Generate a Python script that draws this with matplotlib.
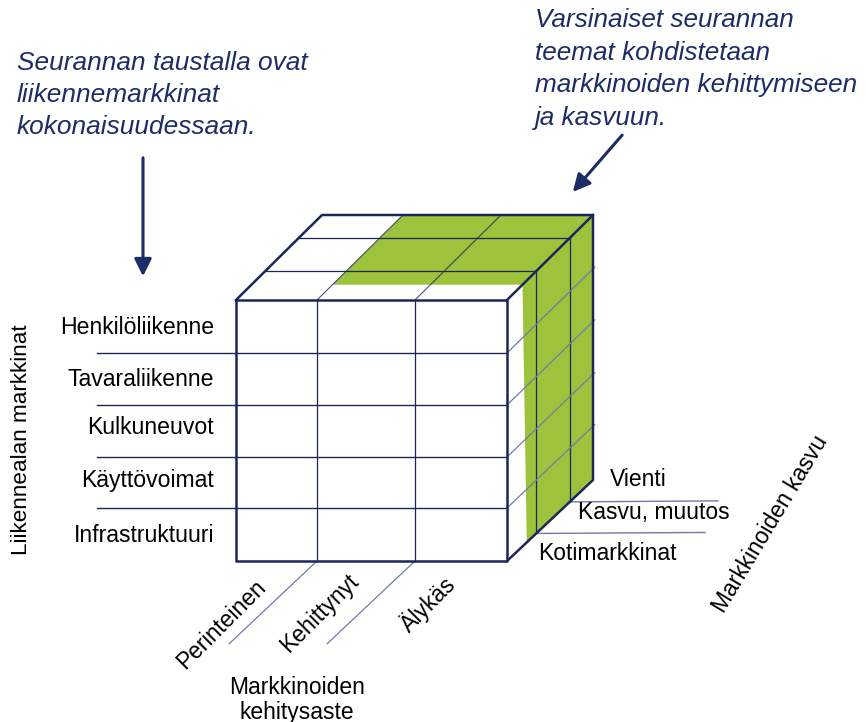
import matplotlib.pyplot as plt
from matplotlib.patches import Polygon

# Labels of the cube
row_labels = ["Henkilöliikenne", "Tavaraliikenne", "Kulkuneuvot", "Käyttövoimat", "Infrastruktuuri"]
col_labels = ["Perinteinen", "Kehittynyt", "Älykäs"]
depth_labels = ["Kotimarkkinat", "Kasvu, muutos", "Vienti"]
left_note = ["Seurannan taustalla ovat", "liikennemarkkinat", "kokonaisuudessaan."]
right_note = ["Varsinaiset seurannan", "teemat kohdistetaan", "markkinoiden kehittymiseen", "ja kasvuun."]

# Layout of the drawing (pixels, y down)
row_edges = [300, 353, 405, 457, 508, 561]
col_edges = [236, 317, 415, 507]
depth_frac = [0.0, 0.34, 0.73, 1.0]
back_dx = 86
row_label_y = [328, 380, 427, 481, 535]

navy = "#1b2659"
light = "#6d7ca8"
green = "#9cc33b"
text_navy = "#1c2c66"
font = "Liberation Sans"


def back(x, y, d):
    # shift a front point d of the way to the back face
    dy = -85 + 4 * (y - 300) / 261
    return x + back_dx * d, y + dy * d


fig = plt.figure(figsize=(8.66, 7.22), dpi=100)
ax = fig.add_axes([0, 0, 1, 1])
ax.set_xlim(0, 866)
ax.set_ylim(722, 0)
ax.axis("off")

x0, x1 = col_edges[0], col_edges[-1]
y0, y1 = row_edges[0], row_edges[-1]

# green area on top and side
g1 = back(col_edges[1], y0, 0.18)
g2 = back(col_edges[1], y0, 1)
g3 = back(x1, y0, 1)
g4 = back(x1, y1, 1)
g5 = back(x1, y1, 0.23)
g6 = back(x1, y0, 0.18)
ax.add_patch(Polygon([g1, g2, g3, g4, g5, g6], closed=True,
                     facecolor=green, edgecolor="none", zorder=1))

# front face grid
for y in row_edges[1:-1]:
    ax.plot([97, x1], [y, y], color=navy, lw=1.0, zorder=3)
for x in col_edges[1:-1]:
    ax.plot([x, x], [y0, y1], color=navy, lw=0.9, zorder=3)
ax.plot([x0, x1, x1, x0, x0], [y0, y0, y1, y1, y0], color=navy, lw=1.8, zorder=4)

# top face grid
for d in depth_frac[1:-1]:
    a, b = back(x0, y0, d), back(x1, y0, d)
    ax.plot([a[0], b[0]], [a[1], b[1]], color=navy, lw=0.9, zorder=3)
for x in col_edges[1:-1]:
    b = back(x, y0, 1)
    ax.plot([x, b[0]], [y0, b[1]], color=navy, lw=0.8, alpha=0.8, zorder=3)
tl, tr = back(x0, y0, 1), back(x1, y0, 1)
ax.plot([x0, tl[0], tr[0], x1], [y0, tl[1], tr[1], y0], color=navy, lw=1.8, zorder=4)

# side face grid
for d in depth_frac[1:-1]:
    a, b = back(x1, y0, d), back(x1, y1, d)
    ax.plot([a[0], b[0]], [a[1], b[1]], color=navy, lw=0.9, zorder=3)
for y in row_edges[1:-1]:
    b = back(x1, y, 1.02)
    ax.plot([x1, b[0]], [y, b[1]], color=light, lw=0.9, zorder=3)
br = back(x1, y1, 1)
ax.plot([tr[0], br[0], x1], [tr[1], br[1], y1], color=navy, lw=1.8, zorder=4)

# extension lines towards the labels
for d, xe in zip(depth_frac[1:-1], [705, 718]):
    a = back(x1, y1, d)
    ax.plot([a[0], xe], [a[1], a[1] - 1], color=light, lw=1.0, zorder=3)
for x in col_edges[1:-1]:
    b = back(x, y1, -1.02)
    ax.plot([x, b[0]], [y1, b[1]], color=light, lw=0.9, zorder=3)

# labels
for ym, lab in zip(row_label_y, row_labels):
    ax.text(214, ym, lab, ha="right", va="center", fontsize=16.6, family=font, color="black")

col_pos = [(221, 624), (320, 613), (428, 604)]
for (cx, cy), lab in zip(col_pos, col_labels):
    ax.text(cx, cy, lab, ha="center", va="center", rotation=45, rotation_mode="anchor",
            fontsize=16.5, family=font, color="black")

depth_pos = [(538, 553), (578, 513), (610, 480)]
for (dx, dy), lab in zip(depth_pos, depth_labels):
    ax.text(dx, dy, lab, ha="left", va="center", fontsize=16.5, family=font, color="black")

ax.text(22, 440, "Liikennealan markkinat", ha="center", va="center", rotation=90,
        fontsize=16.2, family=font, color="black")
ax.text(770, 524, "Markkinoiden kasvu", ha="center", va="center", rotation=59,
        rotation_mode="anchor", fontsize=16.5, family=font, color="black")
ax.text(297, 687, "Markkinoiden", ha="center", va="center", fontsize=16.5, family=font, color="black")
ax.text(297, 712, "kehitysaste", ha="center", va="center", fontsize=16.5, family=font, color="black")

# notes with arrows
for i, line in enumerate(left_note):
    ax.text(17, 63 + 32 * i, line, ha="left", va="center", fontsize=18.9, style="italic",
            family=font, color=text_navy)
for i, line in enumerate(right_note):
    ax.text(535, 20 + 32.5 * i, line, ha="left", va="center", fontsize=18.8, style="italic",
            family=font, color=text_navy)

ax.annotate("", xy=(143, 279), xytext=(143, 155),
            arrowprops=dict(arrowstyle="-|>", color=text_navy, lw=2.2, mutation_scale=26))
ax.annotate("", xy=(571, 194), xytext=(624, 133),
            arrowprops=dict(arrowstyle="-|>", color=text_navy, lw=2.2, mutation_scale=26))

fig.savefig("out.png", dpi=100)
